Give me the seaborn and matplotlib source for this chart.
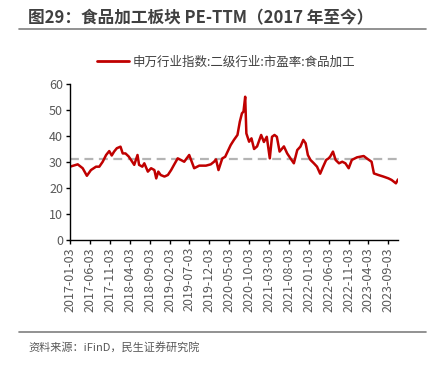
#!/usr/bin/env python3
# -*- coding: utf-8 -*-

#------------------
# IMPORTS
#------------------
import numpy as np
import pandas as pd
import matplotlib
matplotlib.use('Agg')
import matplotlib.pyplot as plt
from matplotlib.lines import Line2D
import seaborn as sns

# --------------------
# DATA
# --------------------
dates = [
    '2017-01-03', '2017-03-03', '2017-04-10', '2017-05-12', '2017-06-12', '2017-07-21',
    '2017-08-15', '2017-09-10', '2017-10-06', '2017-10-30', '2017-11-18', '2017-12-06',
    '2017-12-27', '2018-01-24', '2018-02-10', '2018-03-03', '2018-03-28', '2018-04-26',
    '2018-05-09', '2018-06-03', '2018-06-15', '2018-07-10', '2018-07-25', '2018-08-21',
    '2018-09-15', '2018-10-10', '2018-10-24', '2018-11-09', '2018-11-27', '2018-12-26',
    '2019-01-21', '2019-02-15', '2019-03-09', '2019-04-06', '2019-04-30', '2019-05-26',
    '2019-07-03', '2019-07-27', '2019-08-10', '2019-09-18', '2019-11-08', '2019-12-15',
    '2020-01-09', '2020-01-24', '2020-02-12', '2020-03-12', '2020-04-03', '2020-05-15',
    '2020-06-09', '2020-07-06', '2020-07-24', '2020-08-09', '2020-08-21', '2020-09-03',
    '2020-09-12', '2020-10-03', '2020-10-21', '2020-11-10', '2020-12-03', '2021-01-03',
    '2021-01-24', '2021-02-15', '2021-03-10', '2021-03-27', '2021-04-15', '2021-05-03',
    '2021-05-24', '2021-06-26', '2021-07-21', '2021-08-15', '2021-09-10', '2021-10-06',
    '2021-10-30', '2021-11-21', '2021-12-09', '2021-12-26', '2022-01-15', '2022-02-10',
    '2022-03-06', '2022-03-30', '2022-04-20', '2022-05-15', '2022-06-03', '2022-06-15',
    '2022-07-06', '2022-07-26', '2022-08-21', '2022-09-15', '2022-10-09', '2022-11-03',
    '2022-11-27', '2023-01-06', '2023-02-26', '2023-03-21', '2023-04-27', '2023-05-15',
    '2023-06-18', '2023-07-26', '2023-09-03', '2023-09-27', '2023-10-30', '2023-11-15',
]
pe_ttm = [
    28.2, 29.1, 27.6, 24.7, 26.9, 28.2,
    28.2, 30.1, 32.7, 34.2, 32.5, 34.0,
    35.3, 35.9, 33.3, 33.3, 32.1, 29.9,
    28.9, 32.7, 28.9, 28.2, 29.5, 26.3,
    27.6, 26.9, 23.7, 26.3, 25.0, 24.4,
    25.0, 26.9, 28.9, 31.4, 30.8, 30.1,
    32.7, 29.5, 27.6, 28.6, 28.6, 29.1,
    30.1, 31.0, 26.9, 31.4, 32.0, 36.5,
    38.5, 40.4, 45.5, 48.7, 49.4, 55.1,
    41.0, 37.8, 39.1, 35.0, 36.0, 40.4,
    37.7, 39.7, 31.4, 39.7, 40.4, 39.7,
    34.0, 36.0, 33.3, 31.4, 29.5, 34.6,
    35.9, 38.5, 37.2, 32.7, 30.8, 29.5,
    28.2, 25.5, 28.0, 30.8, 31.4, 32.1,
    34.0, 30.8, 29.5, 30.1, 29.5, 27.6,
    30.8, 31.8, 32.3, 31.4, 30.1, 25.6,
    25.0, 24.4, 23.7, 23.1, 21.8, 23.3,
]
pe_mean = 31.0
tick_labels = [
    '2017-01-03', '2017-06-03', '2017-11-03', '2018-04-03', '2018-09-03', '2019-02-03',
    '2019-07-03', '2019-12-03', '2020-05-03', '2020-10-03', '2021-03-03', '2021-08-03',
    '2022-01-03', '2022-06-03', '2022-11-03', '2023-04-03', '2023-09-03',
]
y_ticks = [0, 10, 20, 30, 40, 50, 60]

title = '图29：食品加工板块 PE-TTM（2017 年至今）'
series_name = '申万行业指数:二级行业:市盈率:食品加工'
source = '资料来源：iFinD，民生证券研究院'

RED = '#C00000'
GREY = '#404040'

# --------------------
# PLOT
# --------------------
sns.set_theme(style='white')
plt.rcParams['font.family'] = ['Noto Sans CJK SC', 'DejaVu Sans']
plt.rcParams['axes.unicode_minus'] = False

df = pd.DataFrame({'date': pd.to_datetime(dates), 'pe': pe_ttm})

fig = plt.figure(figsize=(4.31, 3.66), dpi=100)
ax = fig.add_axes([70 / 431, 1 - 240 / 366, 328 / 431, 156 / 366])

sns.lineplot(data=df, x='date', y='pe', ax=ax, color=RED, linewidth=1.8)
ax.axhline(pe_mean, color='#B4B4B4', linestyle=(0, (4, 2.5)), linewidth=1.6, zorder=1)

ax.set_xlim(pd.Timestamp('2017-01-03'), pd.Timestamp('2023-11-15'))
ax.set_ylim(0, 60)
ax.set_yticks(y_ticks)
ax.set_xticks(pd.to_datetime(tick_labels))
ax.set_xticklabels(tick_labels, rotation=90)
ax.set_xlabel('')
ax.set_ylabel('')

for side in ['top', 'right']:
    ax.spines[side].set_visible(False)
for side in ['left', 'bottom']:
    ax.spines[side].set_color('black')
    ax.spines[side].set_linewidth(1.0)
ax.tick_params(axis='both', direction='out', length=3, width=1, color='black',
               labelsize=9, labelcolor='#595959', pad=2, bottom=True, left=True)

# legend above axes
handle = Line2D([], [], color=RED, linewidth=2)
fig.legend([handle], [series_name], loc='center', bbox_to_anchor=(226 / 431, 1 - 62 / 366),
           frameon=False, fontsize=9, handlelength=2.6, handletextpad=0.3,
           labelcolor='#404040')

# title and rules
fig.text(28 / 431, 1 - 18 / 366, title, fontsize=12, fontweight='bold', color=GREY,
         va='center', ha='left')
fig.add_artist(Line2D([19 / 431, 426 / 431], [1 - 29 / 366, 1 - 29 / 366],
                      color='#7F7F7F', linewidth=1.2))
fig.add_artist(Line2D([19 / 431, 426 / 431], [1 - 332 / 366, 1 - 332 / 366],
                      color='#7F7F7F', linewidth=1.2))
fig.text(28 / 431, 1 - 347 / 366, source, fontsize=8, color='#595959', va='center', ha='left')

fig.savefig('out.png', dpi=100)
plt.close()
